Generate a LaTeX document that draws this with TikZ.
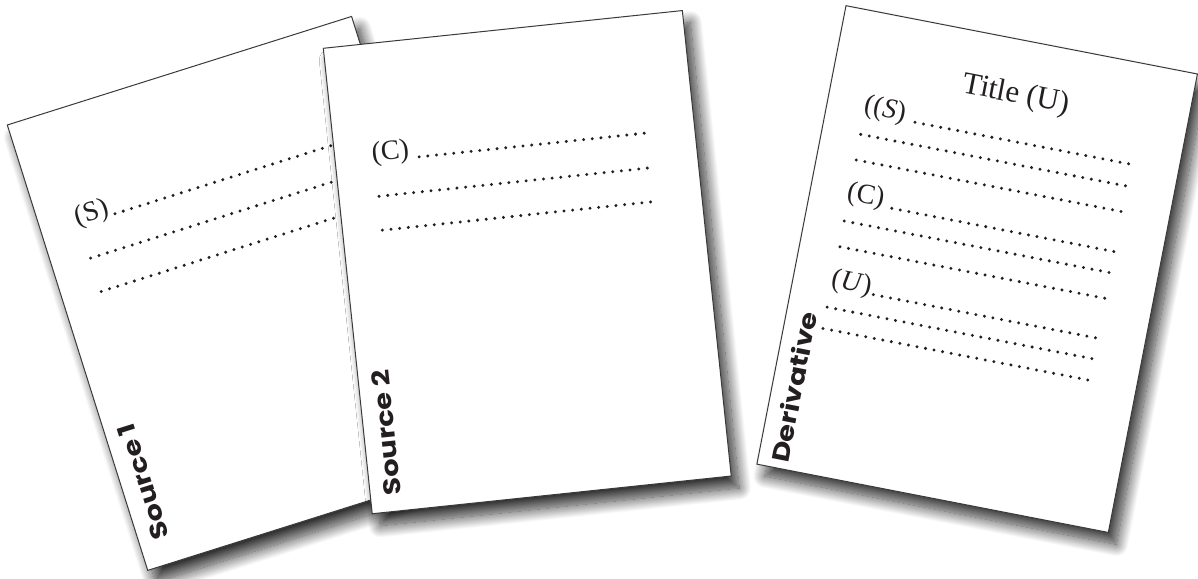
\documentclass[tikz,border=0pt]{standalone}
\usepackage{fontspec}
\usepackage{graphicx}
\setmainfont{Liberation Serif}
\newfontfamily\labelfont{Poppins}
\usetikzlibrary{shadows.blur}
\definecolor{pageedge}{HTML}{3A3A3A}
\definecolor{ink}{HTML}{231F20}
\tikzset{
  paper/.style={fill=white, draw=pageedge, line width=1pt,
    blur shadow={shadow xshift=8pt, shadow yshift=-12pt, shadow blur radius=12pt,
      shadow blur steps=20, shadow opacity=80}},
  dotline/.style={draw=ink, line width=3.3pt, line cap=round, dash pattern=on 0pt off 8.7pt},
  slabel/.style={text=ink, font=\fontsize{28}{32}\selectfont, inner sep=0pt, anchor=base west},
  titlelabel/.style={text=ink, font=\fontsize{31}{35}\selectfont, inner sep=0pt, anchor=base},
  sidelabel/.style={text=ink, font=\labelfont\bfseries\fontsize{24}{28}\selectfont, rotate=90, inner sep=0pt},
}
\begin{document}
\begin{tikzpicture}[x=1pt,y=1pt]
\useasboundingbox (0,0) rectangle (1198,-578);
\clip (0,0) rectangle (1198,-578);

% Source 1
\begin{scope}[shift={(7.3,-125)}, rotate=17.5, transform shape]
  \path[paper] (0,0) rectangle (361,-467);
  \node[slabel] (s1s) at (37,-117) {(S)};
  \draw[dotline] (76,-117) -- (313,-117);
  \draw[dotline] (39.5,-152) -- (313,-152);
  \draw[dotline] (39.5,-187) -- (313,-187);
  \node[sidelabel] (s1lab) at (22.5,-381) {\scalebox{1.2}[1]{Source 1}};
\end{scope}

% Source 2
\begin{scope}[shift={(323.3,-48.3)}, rotate=6, transform shape]
  \path[paper] (0,0) rectangle (361,-468);
  \node[slabel] (s2c) at (37,-118) {(C)};
  \draw[dotline] (84,-118) -- (313,-118);
  \draw[dotline] (40,-153) -- (313,-153);
  \draw[dotline] (39.7,-187) -- (313,-187);
  \node[sidelabel] (s2lab) at (22.5,-388.7) {\scalebox{1.2}[1]{Source 2}};
\end{scope}

% Derivative
\begin{scope}[shift={(846,-5.7)}, rotate=-11, transform shape]
  \path[paper] (0,0) rectangle (358,-467);
  \node[titlelabel] (dtitle) at (184,-63) {Title (U)};
  \node[slabel] (ds) at (37,-102) {((\textit{S})};
  \draw[dotline] (90,-101.3) -- (313,-101.3);
  \draw[dotline] (39,-123.5) -- (313,-123.5);
  \draw[dotline] (39.5,-149.5) -- (313,-149.5);
  \node[slabel] (dc) at (37,-190.2) {(C)};
  \draw[dotline] (83.6,-190.2) -- (313.5,-190.2);
  \draw[dotline] (39.4,-211.7) -- (313,-211.7);
  \draw[dotline] (40,-237.8) -- (313,-237.8);
  \node[slabel] (du) at (38,-278.4) {(\textit{U})};
  \draw[dotline] (82,-278.4) -- (313,-278.4);
  \draw[dotline] (39,-299.5) -- (313,-299.5);
  \draw[dotline] (39,-321.2) -- (313.5,-321.2);
  \node[sidelabel] (dlab) at (21.3,-384.3) {\scalebox{1.2}[1]{Derivative}};
\end{scope}
\end{tikzpicture}
\end{document}
